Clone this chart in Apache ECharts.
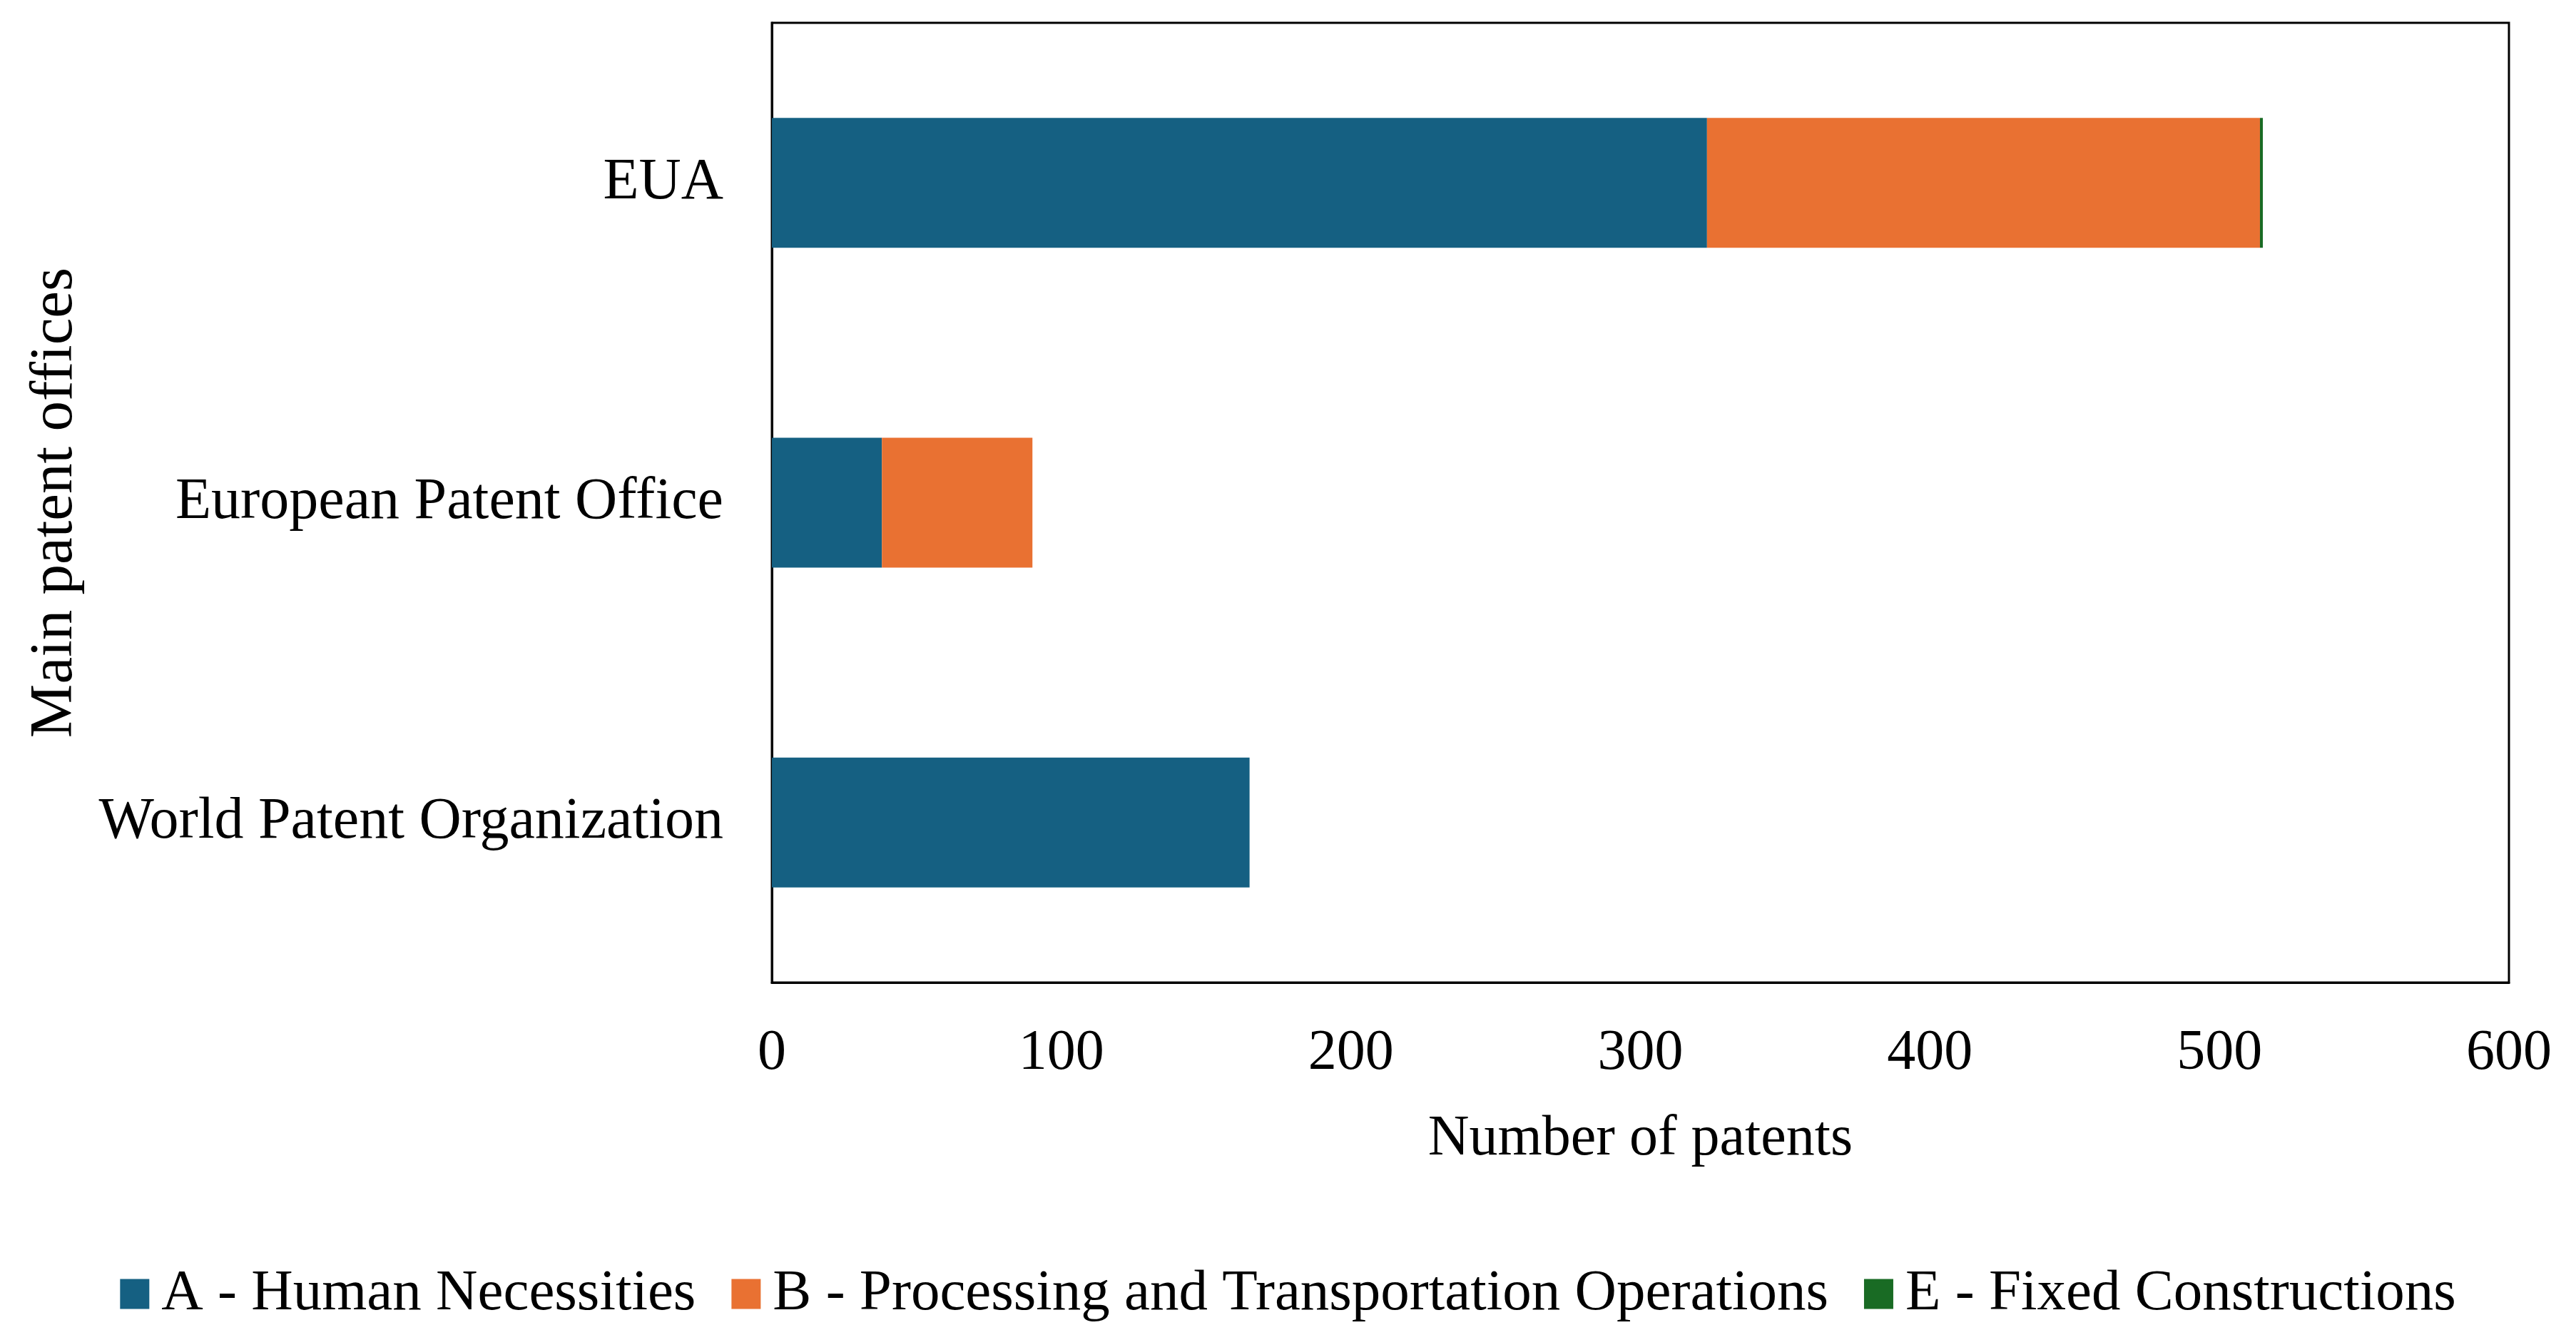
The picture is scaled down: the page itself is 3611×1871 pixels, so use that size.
<!DOCTYPE html>
<html>
<head>
<meta charset="utf-8">
<script src="https://cdn.jsdelivr.net/npm/echarts@6/dist/echarts.min.js"></script>
<style>
html,body{margin:0;padding:0;background:#fff;}
#chart{width:3611px;height:1871px;}
</style>
</head>
<body>
<div id="chart"></div>
<script>
const categories = ['World Patent Organization', 'European Patent Office', 'EUA'];
const seriesNames = ['A - Human Necessities', 'B - Processing and Transportation Operations', 'E - Fixed Constructions'];
const humanNecessities = [165, 38, 323];
const processingTransport = [0, 52, 191];
const fixedConstructions = [0, 0, 1];
const xTicks = [0, 100, 200, 300, 400, 500, 600];

const FONT = 'Liberation Serif';
const colors = ['#156082', '#E97132', '#196B24'];

const chart = echarts.init(document.getElementById('chart'), null, {renderer: 'canvas'});
chart.setOption({
  backgroundColor: '#ffffff',
  animation: false,
  textStyle: {fontFamily: FONT, color: '#000'},
  grid: {
    left: 1082, right: 94, top: 32, bottom: 494,
    show: true, borderColor: '#000', borderWidth: 3, backgroundColor: 'transparent'
  },
  legend: {
    bottom: 12,
    left: 'center',
    itemWidth: 41,
    itemHeight: 42,
    itemGap: 50,
    icon: 'rect',
    textStyle: {fontFamily: FONT, fontSize: 81, color: '#000', padding: [0, 0, 0, 12]},
    data: seriesNames
  },
  xAxis: {
    type: 'value',
    min: xTicks[0],
    max: xTicks[xTicks.length - 1],
    interval: 100,
    name: 'Number of patents',
    nameLocation: 'middle',
    nameGap: 180,
    nameTextStyle: {fontFamily: FONT, fontSize: 80, color: '#000'},
    axisLine: {show: true, lineStyle: {color: '#000', width: 3}},
    axisTick: {show: false},
    splitLine: {show: false},
    axisLabel: {fontFamily: FONT, fontSize: 80, color: '#000', margin: 60}
  },
  yAxis: {
    type: 'category',
    data: categories,
    name: 'Main patent offices',
    nameLocation: 'middle',
    nameGap: 962,
    nameRotate: 90,
    nameTextStyle: {fontFamily: FONT, fontSize: 85, color: '#000'},
    axisLine: {show: true, lineStyle: {color: '#000', width: 3}},
    axisTick: {show: false},
    splitLine: {show: false},
    axisLabel: {fontFamily: FONT, fontSize: 82, color: '#000', margin: 68}
  },
  series: [
    {name: seriesNames[0], type: 'bar', stack: 'total', barWidth: 182, itemStyle: {color: colors[0]}, data: humanNecessities},
    {name: seriesNames[1], type: 'bar', stack: 'total', barWidth: 182, itemStyle: {color: colors[1]}, data: processingTransport},
    {name: seriesNames[2], type: 'bar', stack: 'total', barWidth: 182, itemStyle: {color: colors[2]}, data: fixedConstructions}
  ]
});
</script>
</body>
</html>
